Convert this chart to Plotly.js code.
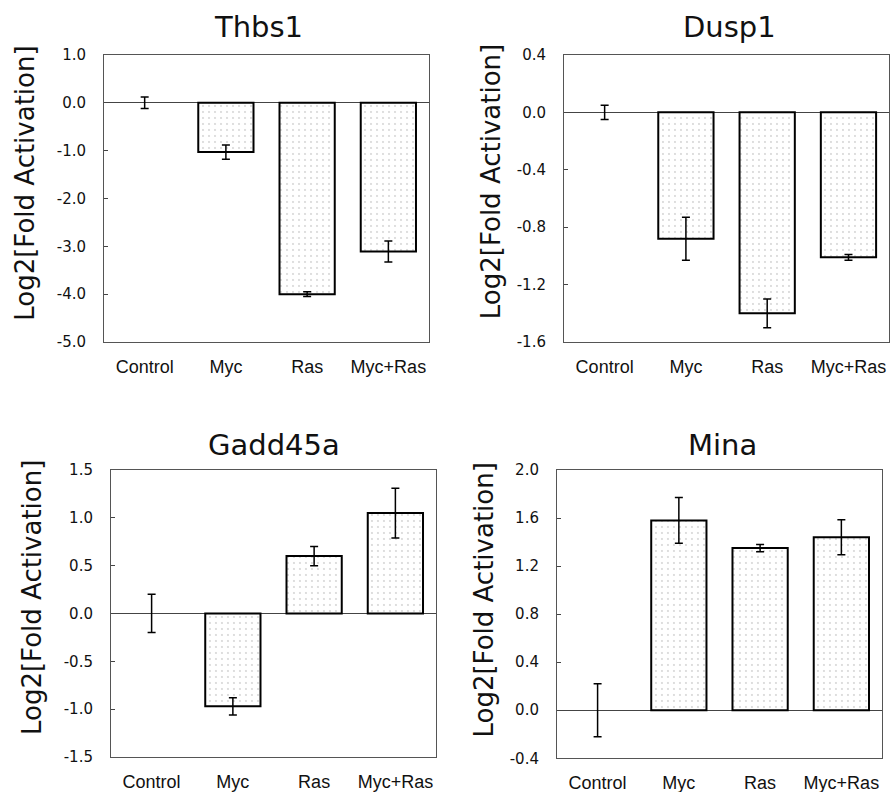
<!DOCTYPE html>
<html>
<head>
<meta charset="utf-8">
<script src="https://cdn.plot.ly/plotly-3.0.1.min.js"></script>
<style>html,body{margin:0;padding:0;background:#fff;}#chart{width:890px;height:792px;}</style>
</head>
<body>
<div id="chart"></div>
<script>
const categories = ['Control', 'Myc', 'Ras', 'Myc+Ras'];
const geneNames = ['Thbs1', 'Dusp1', 'Gadd45a', 'Mina'];

const thbs1 = [0, -1.03, -4.00, -3.11];
const thbs1Err = [0.12, 0.15, 0.05, 0.22];
const dusp1 = [0, -0.88, -1.40, -1.01];
const dusp1Err = [0.05, 0.15, 0.10, 0.02];
const gadd45a = [0, -0.97, 0.60, 1.05];
const gadd45aErr = [0.20, 0.09, 0.10, 0.26];
const mina = [0, 1.58, 1.35, 1.44];
const minaErr = [0.22, 0.19, 0.03, 0.145];

const thbs1Ticks = [1, 0, -1, -2, -3, -4, -5];
const thbs1TickText = ['1.0', '0.0', '-1.0', '-2.0', '-3.0', '-4.0', '-5.0'];
const dusp1Ticks = [0.4, 0, -0.4, -0.8, -1.2, -1.6];
const dusp1TickText = ['0.4', '0.0', '-0.4', '-0.8', '-1.2', '-1.6'];
const gadd45aTicks = [1.5, 1, 0.5, 0, -0.5, -1, -1.5];
const gadd45aTickText = ['1.5', '1.0', '0.5', '0.0', '-0.5', '-1.0', '-1.5'];
const minaTicks = [2.0, 1.6, 1.2, 0.8, 0.4, 0, -0.4];
const minaTickText = ['2.0', '1.6', '1.2', '0.8', '0.4', '0.0', '-0.4'];

const yRanges = [[-5, 1], [-1.6, 0.4], [-1.5, 1.5], [-0.4, 2.0]];
const yTitle = 'Log2[Fold Activation]';

const values = [thbs1, dusp1, gadd45a, mina];
const errors = [thbs1Err, dusp1Err, gadd45aErr, minaErr];
const tickVals = [thbs1Ticks, dusp1Ticks, gadd45aTicks, minaTicks];
const tickTexts = [thbs1TickText, dusp1TickText, gadd45aTickText, minaTickText];

const xDomains = [[0.1169, 0.4820], [0.6337, 0.999], [0.1247, 0.4899], [0.6258, 0.9910]];
const yDomains = [[0.5682, 0.9306], [0.5682, 0.9306], [0.0442, 0.4066], [0.0426, 0.4066]];
const titlePos = [[0.291, 0.966], [0.820, 0.966], [0.308, 0.438], [0.812, 0.438]];
const yTitlePos = [[0.0281, 0.768], [0.5517, 0.770], [0.0360, 0.245], [0.5438, 0.243]];

const traces = [];
const layout = {
  width: 890, height: 792,
  margin: {l: 0, r: 0, t: 0, b: 0},
  paper_bgcolor: '#ffffff',
  plot_bgcolor: '#ffffff',
  showlegend: false,
  font: {family: 'DejaVu Sans, Verdana, sans-serif', color: '#111'},
  annotations: []
};

for (let i = 0; i < 4; i++) {
  const sfx = i === 0 ? '' : String(i + 1);
  traces.push({
    type: 'bar',
    x: categories,
    y: values[i],
    xaxis: 'x' + sfx,
    yaxis: 'y' + sfx,
    width: 0.68,
    marker: {
      color: '#ffffff',
      line: {color: '#000000', width: [0, 2, 2, 2]},
      pattern: {shape: '.', fgcolor: '#d2d2d2', bgcolor: '#ffffff', size: 6, solidity: 0.08}
    },
    error_y: {type: 'data', array: errors[i], visible: true, color: '#000000', thickness: 1.5, width: 4},
    hoverinfo: 'x+y'
  });
  layout['xaxis' + sfx] = {
    domain: xDomains[i],
    anchor: 'y' + sfx,
    type: 'category',
    range: [-0.5, 3.5],
    showline: true, mirror: true, linecolor: '#555', linewidth: 1,
    showgrid: false, zeroline: false,
    ticks: '',
    ticklabelstandoff: 8,
    tickfont: {family: 'Liberation Sans, Arial, sans-serif', size: 18, color: '#111'},
    fixedrange: true
  };
  layout['yaxis' + sfx] = {
    domain: yDomains[i],
    anchor: 'x' + sfx,
    range: yRanges[i],
    tickmode: 'array',
    tickvals: tickVals[i],
    ticktext: tickTexts[i],
    showline: true, mirror: true, linecolor: '#555', linewidth: 1,
    showgrid: false,
    zeroline: true, zerolinecolor: '#444', zerolinewidth: 1,
    ticks: 'inside', ticklen: 4, tickcolor: '#444', tickwidth: 1,
    ticklabelstandoff: 14,
    tickfont: {family: 'DejaVu Sans, Verdana, sans-serif', size: 15, color: '#111'},
    automargin: false,
    fixedrange: true
  };
  layout.annotations.push({
    text: geneNames[i],
    xref: 'paper', yref: 'paper',
    x: titlePos[i][0], y: titlePos[i][1],
    xanchor: 'center', yanchor: 'middle',
    showarrow: false,
    font: {family: 'DejaVu Sans, Verdana, sans-serif', size: 29, color: '#111'}
  });
  layout.annotations.push({
    text: yTitle,
    xref: 'paper', yref: 'paper',
    x: yTitlePos[i][0], y: yTitlePos[i][1],
    xanchor: 'center', yanchor: 'middle',
    textangle: -90,
    showarrow: false,
    font: {family: 'DejaVu Sans, Verdana, sans-serif', size: 26, color: '#111'}
  });
}

Plotly.newPlot('chart', traces, layout, {staticPlot: true, displayModeBar: false});
</script>
</body>
</html>
